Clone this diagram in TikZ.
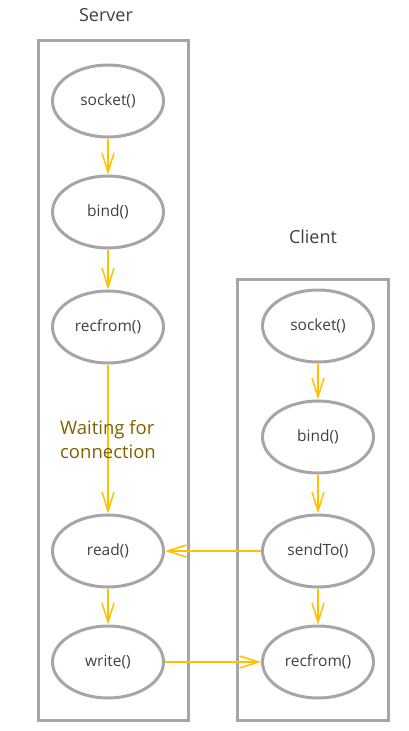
\documentclass[tikz,border=0pt]{standalone}
\usepackage{fontspec}
\setmainfont{Open Sans}
\usetikzlibrary{arrows.meta,shapes.geometric}
\definecolor{boxgray}{HTML}{A6A6A6}
\definecolor{txtgray}{HTML}{404040}
\definecolor{gold}{HTML}{FFC000}
\definecolor{darkgold}{HTML}{7F6000}
\tikzset{
  lane/.style={draw=boxgray, line width=3pt},
  func/.style={ellipse, draw=boxgray, line width=3pt, minimum width=111pt, minimum height=72pt, inner sep=0pt, text=txtgray, font=\fontsize{15.5}{18}\selectfont},
  title/.style={text=txtgray, font=\fontsize{18}{22}\selectfont},
  flow/.style={draw=gold, line width=1.5pt, -{Straight Barb[length=19pt,width=12pt,line width=1.5pt]}},
}
\begin{document}
\begin{tikzpicture}[x=1pt,y=-1pt]
\useasboundingbox (0,0) rectangle (409,731);
\node[lane, minimum width=150pt, minimum height=680pt, inner sep=0pt] (srvbox) at (113,380) {};
\node[lane, minimum width=151pt, minimum height=441pt, inner sep=0pt] (clibox) at (312.5,499.5) {};
\node[title] (srvtitle) at (106,15) {Server};
\node[title] (clititle) at (313,237) {Client};
\node[func] (ssock) at (108,101) {socket()};
\node[func] (sbind) at (108,212) {bind()};
\node[func] (srecv) at (108,327) {recfrom()};
\node[func] (sread) at (108,551) {read()};
\node[func] (swrite) at (108,662) {write()};
\node[func] (csock) at (318,326) {socket()};
\node[func] (cbind) at (318,437) {bind()};
\node[func] (csend) at (318,551) {sendTo()};
\node[func] (crecv) at (318,662) {recfrom()};
\draw[flow] (ssock) -- (sbind);
\draw[flow] (sbind) -- (srecv);
\draw[flow] (srecv) -- (sread);
\draw[flow] (sread) -- (swrite);
\draw[flow] (csock) -- (cbind);
\draw[flow] (cbind) -- (csend);
\draw[flow] (csend) -- (crecv);
\draw[flow] (csend) -- (sread);
\draw[flow] (swrite) -- (crecv);
\node[text=darkgold, font=\fontsize{18.5}{24}\selectfont, align=left] (wait) at (108,440) {Waiting for\\connection};
\end{tikzpicture}
\end{document}
